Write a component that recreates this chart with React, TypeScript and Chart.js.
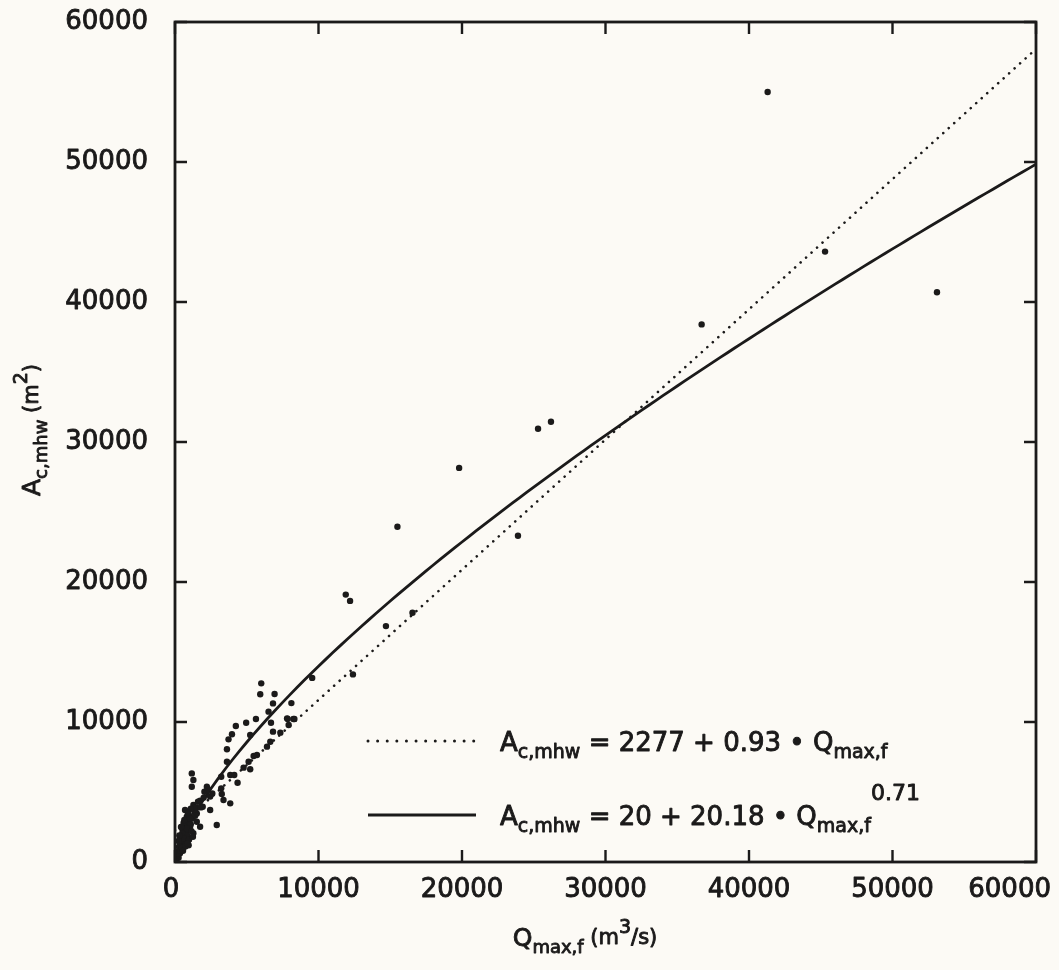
import React, { useEffect, useRef } from "react";
import { Chart, registerables } from "chart.js";

Chart.register(...registerables);

// Peak flood discharge Q_max,f (m^3/s) for each inlet
const qMaxF = [
  41300, 45300, 53100, 36700, 26200, 25300, 19800, 15500, 23900, 11900,
  12200, 16550, 14700, 12400, 9560, 8110, 7810, 8250,
  6010, 5940, 6940, 6830, 6520, 5640, 4960, 4240, 3970, 3730,
  3620, 6690, 7850, 8320, 7920, 6830, 7340, 5240, 6640, 6410,
  5710, 5480, 5130, 3620, 4780, 5240,
  3850, 4130, 3220, 4360, 1170, 1280, 1170, 2220, 2050, 3220,
  3260, 2450, 3380, 3850, 1750, 1280, 1930, 2450, 2910, 700,
  820, 1520, 1520, 1750, 1050, 580, 1280, 470, 930, 580, 350,
  200, 300, 400, 450, 550, 650, 700, 800, 900, 1000,
  1100, 1200, 1350, 1450, 600, 750, 850, 950, 250, 150,
  1600, 1800, 2000, 2300, 2600, 1400, 1100, 900, 500, 350,
  100, 180, 280, 380, 480, 520, 620, 720, 820, 300,
  420, 650, 980, 1150, 1250, 60, 240, 560, 880, 1050,
];

// Cross-sectional area at mean high water A_c,mhw (m^2)
const aCMhw = [
  55000, 43600, 40700, 38400, 31450, 30950, 28150, 23950, 23300, 19100,
  18650, 17800, 16850, 13400, 13150, 11350, 10260, 10210,
  12760, 11980, 12000, 11330, 10740, 10210, 9950, 9710, 9120, 8760,
  8050, 9950, 10210, 10210, 9790, 9310, 9240, 9070, 8590, 8240,
  7640, 7570, 7160, 7160, 6740, 6620,
  6210, 6210, 6090, 5660, 6330, 5860, 5380, 5380, 5020, 5260,
  4860, 4670, 4430, 4190, 4380, 4070, 3950, 3710, 2640, 3710,
  3240, 3470, 2880, 2520, 2520, 2290, 2050, 1810, 1570, 1090, 620,
  400, 900, 1300, 1700, 2000, 1500, 2600, 2200, 2900, 3300,
  2700, 3100, 3600, 3900, 2800, 1400, 1900, 1200, 300, 700,
  4300, 3900, 4600, 5200, 4900, 3300, 3800, 3500, 2400, 1500,
  200, 600, 1100, 800, 1000, 2100, 1700, 1100, 2400, 1900,
  2500, 3000, 1600, 2200, 1800, 100, 1500, 800, 1300, 3100,
];

// Axis ticks (same on both axes)
const tickValues = [0, 10000, 20000, 30000, 40000, 50000, 60000];
const tickLabels = ["0", "10000", "20000", "30000", "40000", "50000", "60000"];

// Fitted relations shown in the legend
const linearIntercept = 2277;
const linearSlope = 0.93;
const powerIntercept = 20;
const powerCoeff = 20.18;
const powerExponent = 0.71;

// Discharges at which the fitted curves are evaluated
const curveQ: number[] = [];
for (let q = 0; q <= 60000; q += q < 2000 ? 100 : 500) curveQ.push(q);

const FONT = '"DejaVu Sans", "Liberation Sans", sans-serif';
const INK = "#1b1a1a";
const PAPER = "#fcfaf5";
const TEXT_STROKE = 0.9;

type Part = { t: string; size: number; dy: number };

// Text drawn with a thin outline for a medium-heavy weight
function heavyText(ctx: CanvasRenderingContext2D, s: string, x: number, y: number) {
  ctx.fillText(s, x, y);
  ctx.lineWidth = TEXT_STROKE;
  ctx.lineJoin = "round";
  ctx.strokeText(s, x, y);
}

function richWidth(ctx: CanvasRenderingContext2D, parts: Part[]) {
  let w = 0;
  for (const p of parts) {
    ctx.font = `${p.size}px ${FONT}`;
    w += ctx.measureText(p.t).width;
  }
  return w;
}

function drawRich(ctx: CanvasRenderingContext2D, x: number, y: number, parts: Part[]) {
  let cx = x;
  ctx.textBaseline = "alphabetic";
  ctx.textAlign = "left";
  for (const p of parts) {
    ctx.font = `${p.size}px ${FONT}`;
    heavyText(ctx, p.t, cx, y + p.dy);
    cx += ctx.measureText(p.t).width;
  }
}

const framePlugin = {
  id: "frameAndText",
  beforeDraw(chart: any) {
    const ctx = chart.ctx as CanvasRenderingContext2D;
    ctx.save();
    ctx.fillStyle = PAPER;
    ctx.fillRect(0, 0, chart.width, chart.height);
    ctx.restore();
  },
  afterDraw(chart: any) {
    const ctx = chart.ctx as CanvasRenderingContext2D;
    const { left, right, top, bottom } = chart.chartArea;
    const xs = chart.scales.x;
    const ys = chart.scales.y;
    ctx.save();
    ctx.strokeStyle = INK;
    ctx.fillStyle = INK;

    // frame
    ctx.lineWidth = 2.8;
    ctx.strokeRect(left, top, right - left, bottom - top);

    // inward tick marks on all four sides
    const tl = 12;
    ctx.lineWidth = 2.4;
    ctx.beginPath();
    tickValues.forEach((v) => {
      const px = xs.getPixelForValue(v);
      const py = ys.getPixelForValue(v);
      ctx.moveTo(px, bottom);
      ctx.lineTo(px, bottom - tl);
      ctx.moveTo(px, top);
      ctx.lineTo(px, top + tl);
      ctx.moveTo(left, py);
      ctx.lineTo(left + tl, py);
      ctx.moveTo(right, py);
      ctx.lineTo(right - tl, py);
    });
    ctx.stroke();

    // tick labels
    ctx.font = `26px ${FONT}`;
    ctx.textBaseline = "middle";
    ctx.textAlign = "right";
    tickValues.forEach((v, i) => {
      heavyText(ctx, tickLabels[i], left - 27, ys.getPixelForValue(v));
    });
    ctx.textBaseline = "top";
    ctx.textAlign = "center";
    tickValues.forEach((v, i) => {
      const w = ctx.measureText(tickLabels[i]).width;
      let cx = xs.getPixelForValue(v);
      if (cx + w / 2 > chart.width - 8) cx = chart.width - 8 - w / 2;
      if (i === 0) cx -= 4;
      heavyText(ctx, tickLabels[i], cx, bottom + 15);
    });

    // x-axis title
    const xTitle: Part[] = [
      { t: "Q", size: 25, dy: 0 },
      { t: "max,f", size: 18, dy: 7 },
      { t: " (m", size: 21, dy: -2 },
      { t: "3", size: 19, dy: -13 },
      { t: "/s)", size: 21, dy: -2 },
    ];
    const xw = richWidth(ctx, xTitle);
    drawRich(ctx, 585 - xw / 2, 946, xTitle);

    // y-axis title (rotated)
    const yTitle: Part[] = [
      { t: "A", size: 25, dy: 0 },
      { t: "c,mhw", size: 18, dy: 7 },
      { t: " (m", size: 21, dy: -2 },
      { t: "2", size: 19, dy: -13 },
      { t: ")", size: 21, dy: -2 },
    ];
    const yw = richWidth(ctx, yTitle);
    ctx.save();
    ctx.translate(40, 430);
    ctx.rotate(-Math.PI / 2);
    drawRich(ctx, -yw / 2, 0, yTitle);
    ctx.restore();

    // legend
    const lx0 = 368;
    const lx1 = 476;
    const row1 = 741;
    const row2 = 815;
    ctx.lineCap = "round";
    ctx.lineWidth = 3;
    ctx.setLineDash([0.01, 9.6]);
    ctx.beginPath();
    ctx.moveTo(lx0, row1);
    ctx.lineTo(lx1, row1);
    ctx.stroke();
    ctx.setLineDash([]);
    ctx.lineCap = "butt";
    ctx.lineWidth = 2.8;
    ctx.beginPath();
    ctx.moveTo(lx0, row2);
    ctx.lineTo(lx1, row2);
    ctx.stroke();

    const eq1: Part[] = [
      { t: "A", size: 26, dy: 0 },
      { t: "c,mhw", size: 19, dy: 7 },
      { t: " = 2277 + 0.93 \u2022 Q", size: 26, dy: 0 },
      { t: "max,f", size: 19, dy: 7 },
    ];
    const eq2: Part[] = [
      { t: "A", size: 26, dy: 0 },
      { t: "c,mhw", size: 19, dy: 7 },
      { t: " = 20 + 20.18 \u2022 Q", size: 26, dy: 0 },
      { t: "max,f", size: 19, dy: 7 },
      { t: "0.71", size: 22, dy: -25 },
    ];
    drawRich(ctx, 500, row1 + 10, eq1);
    drawRich(ctx, 500, row2 + 10, eq2);

    ctx.restore();
  },
};

export default function App() {
  const canvasRef = useRef<HTMLCanvasElement | null>(null);

  useEffect(() => {
    const canvas = canvasRef.current;
    if (!canvas) return;

    const points = qMaxF.map((q, i) => ({ x: q, y: aCMhw[i] }));
    const linearCurve = curveQ.map((q) => ({ x: q, y: linearIntercept + linearSlope * q }));
    const powerCurve = curveQ.map((q) => ({
      x: q,
      y: powerIntercept + powerCoeff * Math.pow(q, powerExponent),
    }));

    const chart = new Chart(canvas, {
      type: "scatter",
      data: {
        datasets: [
          {
            label: "observed",
            data: points,
            pointRadius: 3.2,
            pointBackgroundColor: INK,
            pointBorderWidth: 0,
            showLine: false,
          },
          {
            label: "linear fit",
            data: linearCurve,
            showLine: true,
            pointRadius: 0,
            borderColor: INK,
            borderWidth: 2.6,
            borderCapStyle: "round",
            borderDash: [0.01, 7.4],
            tension: 0,
          },
          {
            label: "power fit",
            data: powerCurve,
            showLine: true,
            pointRadius: 0,
            borderColor: INK,
            borderWidth: 2.8,
            tension: 0,
          },
        ],
      } as any,
      options: {
        animation: false,
        responsive: false,
        events: [],
        layout: { padding: { left: 175, right: 23, top: 22, bottom: 108 } },
        plugins: {
          legend: { display: false },
          tooltip: { enabled: false },
        },
        scales: {
          x: { type: "linear", min: 0, max: 60000, display: false },
          y: { type: "linear", min: 0, max: 60000, display: false },
        },
      },
      plugins: [framePlugin],
    });

    return () => chart.destroy();
  }, []);

  return (
    <div style={{ position: "fixed", left: 0, top: 0, width: 1059, height: 970, background: PAPER }}>
      <canvas ref={canvasRef} width={1059} height={970} style={{ display: "block" }} />
    </div>
  );
}
